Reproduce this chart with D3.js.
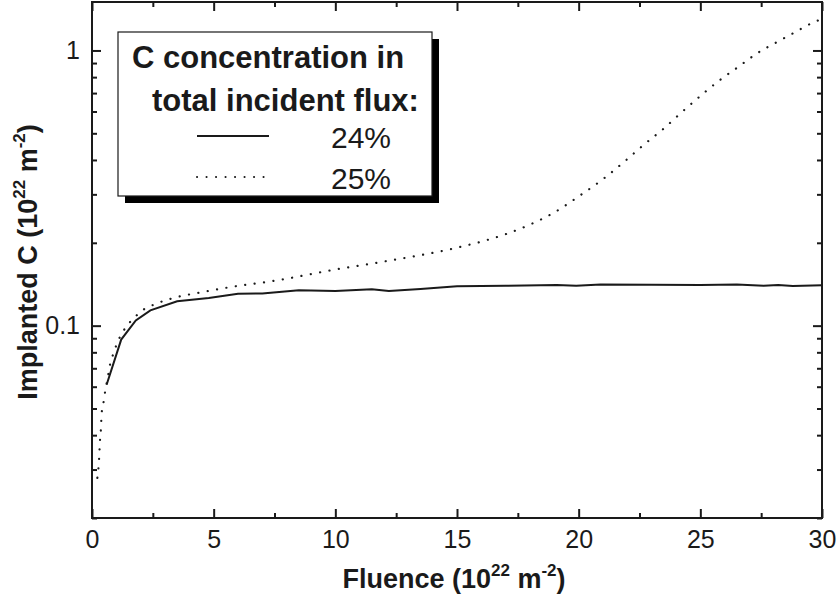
<!DOCTYPE html>
<html><head><meta charset="utf-8">
<script src="https://cdn.jsdelivr.net/npm/d3@7"></script>
<style>body{margin:0;background:#fff}</style>
</head><body><svg id="c" width="837" height="600"></svg>
<script>
// Series 24% (solid)
const fluence24 = [0.6,1.2,1.8,2.4,3.5,4.8,6.0,7.0,8.5,10,11.5,12.2,13.5,15,17,19.1,19.9,20.9,23,25,26.5,27.6,28.2,28.8,30];
const carbon24  = [0.061,0.089,0.1045,0.1137,0.1226,0.126,0.1306,0.131,0.1345,0.1335,0.1355,0.1335,0.136,0.139,0.1395,0.1405,0.1395,0.141,0.1408,0.1405,0.141,0.1395,0.1405,0.1392,0.1402];
// Series 25% (dotted)
const fluence25 = [0.22,0.29,0.33,0.36,0.40,0.47,0.53,0.67,0.74,0.85,1.15,1.40,1.73,2.11,2.52,3.34,4.44,5.67,7.59,10,12,15,16,17,18,19,20,21.15,21.9,22.66,23.48,24.24,24.99,25.78,26.57,27.32,28.14,28.93,29.69,30];
const carbon25  = [0.028,0.0326,0.0385,0.0413,0.0484,0.0524,0.0569,0.0664,0.0721,0.0778,0.091,0.0989,0.1067,0.1143,0.119,0.126,0.132,0.138,0.146,0.160,0.171,0.192,0.202,0.215,0.233,0.258,0.295,0.349,0.396,0.453,0.519,0.597,0.682,0.778,0.873,0.975,1.072,1.17,1.27,1.30];
const seriesNames = ["24%","25%"];
const xTickValues = [0,5,10,15,20,25,30];
const xMinorValues = [2.5,7.5,12.5,17.5,22.5,27.5];
const yTickValues = [0.1,1];
const yTickLabels = ["0.1","1"];
const yMinorValues = [0.02,0.03,0.04,0.05,0.06,0.07,0.08,0.09,0.2,0.3,0.4,0.5,0.6,0.7,0.8,0.9];
const legendTitle = ["C concentration in","total incident flux:"];

const W=837,H=600, L=92,R=822,T=2,B=518;
const FONT = "'Liberation Sans', Arial, Helvetica, sans-serif";
const ink = "#1a1a1a";
const svg = d3.select("#c");
const x = d3.scaleLinear().domain([0,30]).range([L,R]);
const y = d3.scaleLog().domain([0.02,1.5]).range([B,T]);

function styleAxis(g, fs){
  g.selectAll("path").remove();
  g.selectAll("line").attr("stroke",ink).attr("stroke-width",2);
  g.selectAll("text").attr("font-family",FONT).attr("font-size",fs).attr("fill",ink);
}
// bottom
svg.append("g").attr("transform",`translate(0,${B})`)
  .call(d3.axisBottom(x).tickValues(xTickValues).tickSizeInner(-9).tickSizeOuter(0).tickPadding(12).tickFormat(d3.format("d")))
  .call(g=>styleAxis(g,25));
svg.append("g").attr("transform",`translate(0,${B})`)
  .call(d3.axisBottom(x).tickValues(xMinorValues).tickSizeInner(-5).tickSizeOuter(0).tickFormat(""))
  .call(g=>styleAxis(g,25));
// top
svg.append("g").attr("transform",`translate(0,${T})`)
  .call(d3.axisTop(x).tickValues(xTickValues).tickSizeInner(-9).tickSizeOuter(0).tickFormat(""))
  .call(g=>styleAxis(g,25));
svg.append("g").attr("transform",`translate(0,${T})`)
  .call(d3.axisTop(x).tickValues(xMinorValues).tickSizeInner(-5).tickSizeOuter(0).tickFormat(""))
  .call(g=>styleAxis(g,25));
// left
svg.append("g").attr("transform",`translate(${L},0)`)
  .call(d3.axisLeft(y).tickValues(yTickValues).tickSizeInner(-9).tickSizeOuter(0).tickPadding(12).tickFormat((d,i)=>yTickLabels[i]))
  .call(g=>styleAxis(g,25));
svg.append("g").attr("transform",`translate(${L},0)`)
  .call(d3.axisLeft(y).tickValues(yMinorValues).tickSizeInner(-5).tickSizeOuter(0).tickFormat(""))
  .call(g=>styleAxis(g,25));
// right
svg.append("g").attr("transform",`translate(${R},0)`)
  .call(d3.axisRight(y).tickValues(yTickValues).tickSizeInner(-9).tickSizeOuter(0).tickFormat(""))
  .call(g=>styleAxis(g,25));
svg.append("g").attr("transform",`translate(${R},0)`)
  .call(d3.axisRight(y).tickValues(yMinorValues).tickSizeInner(-5).tickSizeOuter(0).tickFormat(""))
  .call(g=>styleAxis(g,25));
// frame
svg.append("rect").attr("x",L).attr("y",T).attr("width",R-L).attr("height",B-T)
  .attr("fill","none").attr("stroke",ink).attr("stroke-width",2);

// lines
const line = d3.line().x(d=>x(d[0])).y(d=>y(d[1]));
svg.append("path").datum(fluence24.map((f,i)=>[f,carbon24[i]]))
  .attr("d",line).attr("fill","none").attr("stroke",ink).attr("stroke-width",2);
svg.append("path").datum(fluence25.map((f,i)=>[f,carbon25[i]]))
  .attr("d",line.curve(d3.curveMonotoneX)).attr("fill","none").attr("stroke",ink).attr("stroke-width",2.2)
  .attr("stroke-linecap","round").attr("stroke-dasharray","0.1 9.4");

// axis titles
const xt = svg.append("text").attr("x",454).attr("y",588).attr("text-anchor","middle")
  .attr("font-family",FONT).attr("font-weight","bold").attr("font-size",27).attr("fill",ink);
xt.append("tspan").text("Fluence (10");
xt.append("tspan").attr("font-size",17).attr("dy",-12).text("22");
xt.append("tspan").attr("dy",12).text(" m");
xt.append("tspan").attr("font-size",17).attr("dy",-12).text("-2");
xt.append("tspan").attr("dy",12).text(")");

const yt = svg.append("text").attr("transform",`translate(37,262) rotate(-90)`).attr("text-anchor","middle")
  .attr("font-family",FONT).attr("font-weight","bold").attr("font-size",27).attr("fill",ink);
yt.append("tspan").text("Implanted C (10");
yt.append("tspan").attr("font-size",17).attr("dy",-12).text("22");
yt.append("tspan").attr("dy",12).text("  m");
yt.append("tspan").attr("font-size",17).attr("dy",-12).text("-2");
yt.append("tspan").attr("dy",12).text(")");

// legend
const lg = svg.append("g");
lg.append("rect").attr("x",125).attr("y",39).attr("width",314).attr("height",164).attr("fill","#000");
lg.append("rect").attr("x",118).attr("y",32).attr("width",314).attr("height",164).attr("fill","#fff")
  .attr("stroke",ink).attr("stroke-width",1.2);
lg.append("text").attr("x",132).attr("y",68).attr("font-family",FONT).attr("font-weight","bold")
  .attr("font-size",31).attr("fill",ink).text(legendTitle[0]);
lg.append("text").attr("x",152).attr("y",111).attr("font-family",FONT).attr("font-weight","bold")
  .attr("font-size",31).attr("fill",ink).text(legendTitle[1]);
const dashes = [null,"0.1 9.4"];
seriesNames.forEach((s,i)=>{
  const yy = 136 + i*41;
  lg.append("line").attr("x1",197).attr("x2",269).attr("y1",yy).attr("y2",yy)
    .attr("stroke",ink).attr("stroke-width",2).attr("stroke-linecap",i? "round":"butt")
    .attr("stroke-dasharray",dashes[i]);
  lg.append("text").attr("x",331).attr("y",yy+12).attr("font-family",FONT)
    .attr("font-size",30).attr("fill",ink).text(s);
});
</script></body></html>
